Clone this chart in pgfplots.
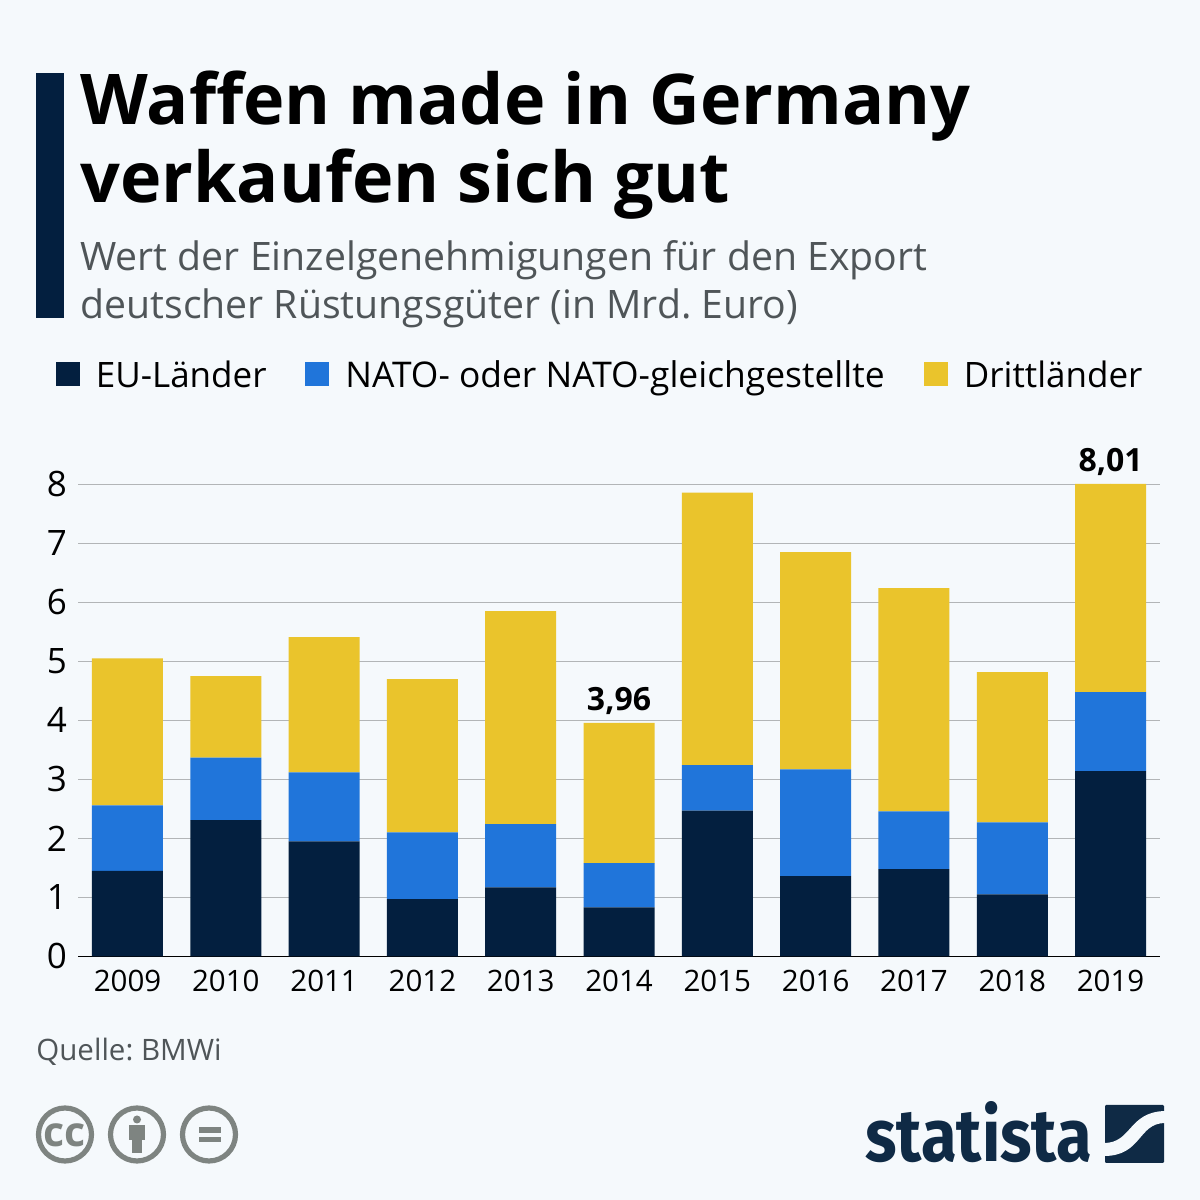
\documentclass[border=0pt]{standalone}
\usepackage{fontspec}
\setmainfont{Open Sans}
\newfontfamily\logofont{Fira Sans}
\usepackage{pgfplots}
\pgfplotsset{compat=1.18}
\definecolor{bg}{HTML}{F5F9FC}
\definecolor{navy}{HTML}{031F3F}
\definecolor{natoblue}{HTML}{2075DA}
\definecolor{drittgelb}{HTML}{EAC42C}
\definecolor{subgrey}{HTML}{4F5558}
\definecolor{gridgrey}{HTML}{B2B5B7}
\definecolor{iconf}{HTML}{7E8481}
\definecolor{logoblue}{HTML}{0F2A45}
% font size given in pixels of the 1200 px picture
\newcommand{\pxfont}[1]{\fontsize{\fpeval{#1*0.5}pt}{\fpeval{#1*0.6}pt}\selectfont}
\pgfplotsset{geom/.style={
    at={(39pt,121.8pt)}, anchor=south west,
    scale only axis,
    width=541pt, height=236pt,
    xmin=-0.5035, xmax=10.503,
    ymin=0, ymax=8,
    clip=false,
}}
\frenchspacing
\begin{document}
\begin{tikzpicture}
\fill[bg] (0,0) rectangle (600pt,600pt);
\begin{axis}[
    geom,
    ybar stacked,
    bar width=35.5pt,
    xtick=data,
    xticklabels={2009,2010,2011,2012,2013,2014,2015,2016,2017,2018,2019},
    ytick={0,1,2,3,4,5,6,7,8},
    major tick length=0pt,
    axis x line=bottom,
    axis y line=left,
    x axis line style={black, line width=0.75pt, -},
    y axis line style={draw=none, -},
    ymajorgrids,
    grid style={gridgrey, line width=0.5pt},
    /pgf/number format/assume math mode=true,
    xticklabel style={font=\pxfont{29.5}, yshift=-3.5pt},
    yticklabel style={font=\pxfont{35}, xshift=-2pt},
]
\addplot[draw=none, fill=navy] coordinates {
    (0,1.45) (1,2.31) (2,1.95) (3,0.97) (4,1.17) (5,0.83)
    (6,2.47) (7,1.36) (8,1.48) (9,1.05) (10,3.14)
};
\addplot[draw=none, fill=natoblue] coordinates {
    (0,1.11) (1,1.06) (2,1.17) (3,1.13) (4,1.07) (5,0.75)
    (6,0.77) (7,1.81) (8,0.98) (9,1.22) (10,1.34)
};
\addplot[draw=none, fill=drittgelb] coordinates {
    (0,2.49) (1,1.38) (2,2.29) (3,2.60) (4,3.61) (5,2.38)
    (6,4.62) (7,3.68) (8,3.78) (9,2.55) (10,3.53)
};
\end{axis}
% same geometry again, not stacked, for the two total labels
\begin{axis}[
    geom,
    hide axis,
    every node near coord/.append style={font=\bfseries\pxfont{32}, text=black, anchor=base, yshift=6pt},
]
\addplot[only marks, mark=*, mark size=0pt, draw=none, point meta=explicit symbolic, nodes near coords]
  coordinates {(5,3.96)[3,96] (10,8.01)[8,01]};
\end{axis}
\begin{scope}[shift={(0,600pt)}, x=0.5pt, y=-0.5pt]
  % title block
  \fill[navy] (36,73) rectangle (64,318);
  \node[anchor=base west, inner sep=0pt, font=\bfseries\pxfont{70.05}] at (80,125) {Waffen made in Germany};
  \node[anchor=base west, inner sep=0pt, font=\bfseries\pxfont{70.05}] at (80,203) {verkaufen sich gut};
  \node[anchor=base west, inner sep=0pt, text=subgrey, font=\pxfont{39.2}] at (80,270.5) {Wert der Einzelgenehmigungen für den Export};
  \node[anchor=base west, inner sep=0pt, text=subgrey, font=\pxfont{39.2}] at (80,318.5) {deutscher Rüstungsgüter (in Mrd. Euro)};
  % legend
  \fill[navy] (56,362) rectangle (80,386);
  \node[anchor=base west, inner sep=0pt, font=\pxfont{35}] at (95.5,387.5) {EU-Länder};
  \fill[natoblue] (305,362) rectangle (329,386);
  \node[anchor=base west, inner sep=0pt, font=\pxfont{35.4}] at (345,387.5) {NATO- oder NATO-gleichgestellte};
  \fill[drittgelb] (924,362) rectangle (948,386);
  \node[anchor=base west, inner sep=0pt, font=\pxfont{35}] at (963.5,387.5) {Drittländer};
  % source
  \node[anchor=base west, inner sep=0pt, text=subgrey, font=\pxfont{29.5}] at (36,1060.5) {Quelle: BMWi};
  % licence icons
  \draw[iconf, line width=2.6pt] (65,1134.5) circle (26.5);
  \draw[iconf, line width=2.6pt] (137,1134.5) circle (26.5);
  \draw[iconf, line width=2.6pt] (209,1134.5) circle (26.5);
  \node[text=iconf, inner sep=0pt, font=\bfseries\pxfont{41}] at (65,1135) {cc};
  \fill[iconf] (137,1119.5) circle (4);
  \fill[iconf] (129,1125) rectangle (145,1140);
  \fill[iconf] (132,1140) rectangle (142,1153);
  \fill[iconf] (199,1127) rectangle (221,1133);
  \fill[iconf] (199,1137) rectangle (221,1142);
  % statista logo
  \node[anchor=base west, inner sep=0pt, text=logoblue, font=\logofont\bfseries\pxfont{74}, xscale=0.88] at (865,1161) {statista};
  \fill[logoblue, rounded corners=0.6pt] (1105,1105) rectangle (1164,1163);
  \fill[bg] (1104,1143) .. controls (1132,1143) and (1128,1112) .. (1165,1111)
            -- (1165,1123) .. controls (1138,1123) and (1142,1156) .. (1104,1156) -- cycle;
\end{scope}
\end{tikzpicture}
\end{document}
